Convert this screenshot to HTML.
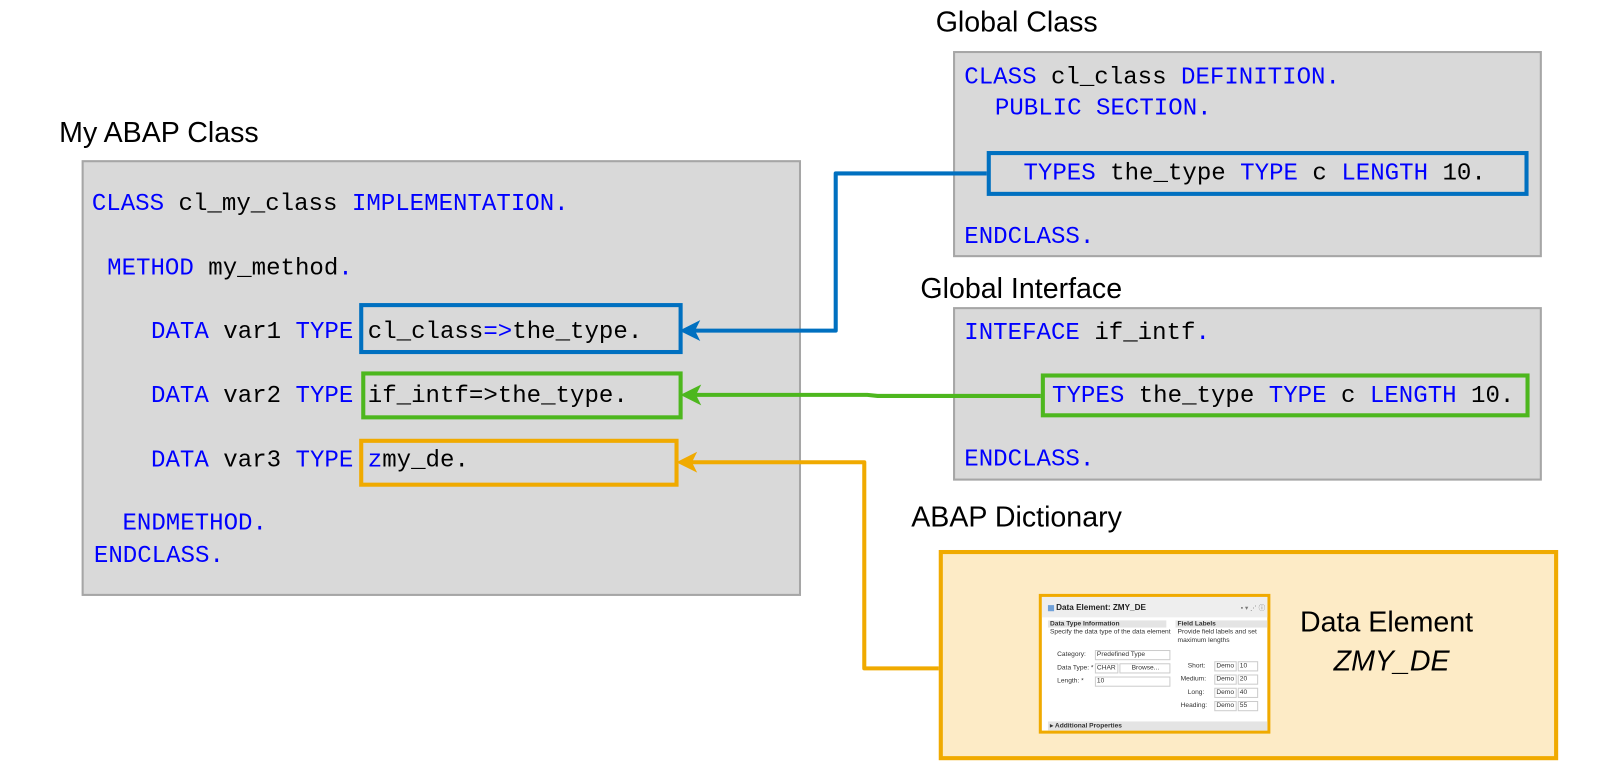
<!DOCTYPE html>
<html><head><meta charset="utf-8">
<style>
html,body{margin:0;padding:0;background:#fff;}
body{width:1600px;height:771px;overflow:hidden;position:relative;}
#w{position:absolute;left:0;top:0;width:1568px;height:756px;transform:scale(1.0204);transform-origin:0 0;}
.box{position:absolute;background:#d9d9d9;border:2px solid #a6a6a6;box-sizing:border-box;}
.t{position:absolute;font-family:"Liberation Mono",monospace;font-size:23.6px;line-height:28px;white-space:pre;color:#000;margin-top:2px;}
.k{color:#0000ff;}
.h{position:absolute;font-family:"Liberation Sans",sans-serif;font-size:28px;line-height:34px;color:#000;white-space:pre;}
.hb{position:absolute;box-sizing:border-box;border:4px solid;}
.s{position:absolute;font-family:"Liberation Sans",sans-serif;font-size:6.5px;line-height:8px;color:#333;white-space:pre;}
.f{position:absolute;border:1px solid #ccc;background:#fff;box-sizing:border-box;}
</style></head><body><div id="w">

<div class="h" style="left:58px;top:113px;">My ABAP Class</div>
<div class="box" style="left:80px;top:157px;width:705px;height:427px;"></div>
<div class="t" style="left:90px;top:185px;"><span class="k">CLASS</span> cl_my_class <span class="k">IMPLEMENTATION.</span></div>
<div class="t" style="left:105px;top:248px;"><span class="k">METHOD</span> my_method<span class="k">.</span></div>
<div class="t" style="left:148px;top:310px;"><span class="k">DATA</span> var1 <span class="k">TYPE</span> cl_class<span class="k">=&gt;</span>the_type.</div>
<div class="t" style="left:148px;top:373px;"><span class="k">DATA</span> var2 <span class="k">TYPE</span> if_intf=&gt;the_type.</div>
<div class="t" style="left:148px;top:436px;"><span class="k">DATA</span> var3 <span class="k">TYPE</span> <span class="k">z</span>my_de.</div>
<div class="t" style="left:120px;top:498px;"><span class="k">ENDMETHOD.</span></div>
<div class="t" style="left:92px;top:530px;"><span class="k">ENDCLASS.</span></div>
<div class="hb" style="left:352px;top:297px;width:317px;height:50px;border-color:#0070c0;"></div>
<div class="hb" style="left:354px;top:364px;width:315px;height:47px;border-color:#4db71e;"></div>
<div class="hb" style="left:352px;top:430px;width:313px;height:47px;border-color:#f0aa00;"></div>

<div class="h" style="left:917px;top:5px;">Global Class</div>
<div class="box" style="left:934px;top:50px;width:577px;height:202px;"></div>
<div class="t" style="left:945px;top:61px;"><span class="k">CLASS</span> cl_class <span class="k">DEFINITION.</span></div>
<div class="t" style="left:975px;top:91px;"><span class="k">PUBLIC SECTION.</span></div>
<div class="t" style="left:1003px;top:155px;"><span class="k">TYPES</span> the_type <span class="k">TYPE</span> c <span class="k">LENGTH</span> 10.</div>
<div class="t" style="left:945px;top:217px;"><span class="k">ENDCLASS.</span></div>
<div class="hb" style="left:967px;top:148px;width:531px;height:44px;border-color:#0070c0;"></div>

<div class="h" style="left:902px;top:266px;">Global Interface</div>
<div class="box" style="left:934px;top:301px;width:577px;height:170px;"></div>
<div class="t" style="left:945px;top:311px;"><span class="k">INTEFACE</span> if_intf<span class="k">.</span></div>
<div class="t" style="left:1031px;top:373px;"><span class="k">TYPES</span> the_type <span class="k">TYPE</span> c <span class="k">LENGTH</span> 10.</div>
<div class="t" style="left:945px;top:435px;"><span class="k">ENDCLASS.</span></div>
<div class="hb" style="left:1020px;top:366px;width:479px;height:43px;border-color:#4db71e;"></div>

<div class="h" style="left:893px;top:490px;">ABAP Dictionary</div>
<div class="hb" style="left:920px;top:539px;width:607px;height:206px;border-color:#f0aa00;background:#fdebc6;"></div>
<div class="h" style="left:1274px;top:593px;">Data Element</div>
<div class="h" style="left:1307px;top:631px;font-style:italic;">ZMY_DE</div>

<div style="position:absolute;left:1018px;top:582px;width:227px;height:137px;box-sizing:border-box;border:3px solid #f0aa00;background:#fff;overflow:hidden;">
 <div style="position:absolute;left:0;top:0;width:224px;height:20px;background:#eee;"></div>
 <div style="position:absolute;left:6px;top:8px;width:6px;height:6px;background:#6fa0d8;"></div>
 <div class="s" style="left:14px;top:6px;font-size:8px;line-height:10px;font-weight:bold;color:#222;">Data Element: ZMY_DE</div>
 <div class="s" style="left:195px;top:8px;color:#777;">▪ ▾ ⋰ ⓘ</div>
 <div style="position:absolute;left:6px;top:23px;width:116px;height:7px;background:#e4e4e4;"></div>
 <div class="s" style="left:8px;top:23px;font-weight:bold;">Data Type Information</div>
 <div class="s" style="left:8px;top:31px;">Specify the data type of the data element</div>
 <div class="s" style="left:15px;top:53px;">Category:</div>
 <div class="f" style="left:52px;top:52px;width:74px;height:10px;"></div>
 <div class="s" style="left:54px;top:53px;">Predefined Type</div>
 <div class="s" style="left:15px;top:66px;">Data Type: *</div>
 <div class="f" style="left:52px;top:65px;width:23px;height:10px;"></div>
 <div class="s" style="left:54px;top:66px;">CHAR</div>
 <div class="f" style="left:76px;top:65px;width:50px;height:10px;"></div>
 <div class="s" style="left:88px;top:66px;">Browse...</div>
 <div class="s" style="left:15px;top:79px;">Length: *</div>
 <div class="f" style="left:52px;top:78px;width:74px;height:10px;"></div>
 <div class="s" style="left:54px;top:79px;">10</div>
 <div style="position:absolute;left:131px;top:23px;width:90px;height:7px;background:#e4e4e4;"></div>
 <div class="s" style="left:133px;top:23px;font-weight:bold;">Field Labels</div>
 <div class="s" style="left:133px;top:31px;">Provide field labels and set
maximum lengths</div>
 <div class="s" style="left:143px;top:64px;">Short:</div>
 <div class="s" style="left:136px;top:77px;">Medium:</div>
 <div class="s" style="left:143px;top:90px;">Long:</div>
 <div class="s" style="left:136px;top:103px;">Heading:</div>
 <div class="f" style="left:169px;top:63px;width:22px;height:10px;"></div><div class="s" style="left:171px;top:64px;">Demo</div>
 <div class="f" style="left:169px;top:76px;width:22px;height:10px;"></div><div class="s" style="left:171px;top:77px;">Demo</div>
 <div class="f" style="left:169px;top:89px;width:22px;height:10px;"></div><div class="s" style="left:171px;top:90px;">Demo</div>
 <div class="f" style="left:169px;top:102px;width:22px;height:10px;"></div><div class="s" style="left:171px;top:103px;">Demo</div>
 <div class="f" style="left:192px;top:63px;width:20px;height:10px;"></div><div class="s" style="left:194px;top:64px;">10</div>
 <div class="f" style="left:192px;top:76px;width:20px;height:10px;"></div><div class="s" style="left:194px;top:77px;">20</div>
 <div class="f" style="left:192px;top:89px;width:20px;height:10px;"></div><div class="s" style="left:194px;top:90px;">40</div>
 <div class="f" style="left:192px;top:102px;width:20px;height:10px;"></div><div class="s" style="left:194px;top:103px;">55</div>
 <div style="position:absolute;left:6px;top:122px;width:215px;height:9px;background:#e4e4e4;"></div>
 <div class="s" style="left:8px;top:123px;font-weight:bold;">▸ Additional Properties</div>
</div>

<svg style="position:absolute;left:0;top:0;" width="1568" height="756">
 <polyline points="967,170 819,170 819,324 680,324" fill="none" stroke="#0070c0" stroke-width="4" stroke-linejoin="round"/>
 <polygon points="668,324 684,316 680,324 684,332" fill="#0070c0" stroke="#0070c0" stroke-width="2"/>
 <polyline points="1020,388 860,388 850,387 681,387" fill="none" stroke="#4db71e" stroke-width="4"/>
 <polygon points="669,387 685,379 681,387 685,395" fill="#4db71e" stroke="#4db71e" stroke-width="2"/>
 <polyline points="920,655 847,655 847,453 677,453" fill="none" stroke="#f0aa00" stroke-width="4" stroke-linejoin="round"/>
 <polygon points="665,453 681,445 677,453 681,461" fill="#f0aa00" stroke="#f0aa00" stroke-width="2"/>
</svg>
</div></body></html>
